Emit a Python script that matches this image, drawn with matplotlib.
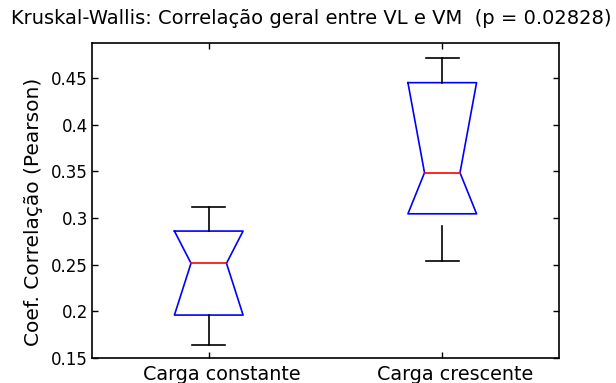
import matplotlib
matplotlib.use("Agg")
import matplotlib.pyplot as plt
import matplotlib.transforms as mtransforms
import numpy as np

plt.rcParams['font.family'] = ['DejaVu Sans']

# box statistics
groups = ["Carga constante", "Carga crescente"]
positions = [1, 2]
whisker_low = [0.164, 0.254]
whisker_low_top = [0.196, 0.291]   # where the lower whisker line starts
q1 = [0.196, 0.3045]
median = [0.2515, 0.3485]
q3 = [0.286, 0.445]
whisker_high = [0.312, 0.4715]

box_half = 0.147
notch_half = 0.076
cap_half = 0.071

fig = plt.figure(figsize=(6.16, 3.83), dpi=100)
ax = fig.add_axes([92 / 616, 1 - 358 / 383, (559 - 92) / 616, (358 - 43) / 383])

for i, x in enumerate(positions):
    # notched box outline
    xs = [x - box_half, x + box_half, x + notch_half, x + box_half,
          x - box_half, x - notch_half, x - box_half]
    ys = [q3[i], q3[i], median[i], q1[i], q1[i], median[i], q3[i]]
    ax.plot(xs, ys, color='#0000ff', lw=1.2)
    ax.plot([x - notch_half, x + notch_half], [median[i], median[i]],
            color='#ff0000', lw=1.2)
    # whiskers
    ax.plot([x, x], [q3[i], whisker_high[i]], color='black', lw=1.2)
    ax.plot([x, x], [whisker_low_top[i], whisker_low[i]], color='black', lw=1.2)
    ax.plot([x - cap_half, x + cap_half], [whisker_high[i], whisker_high[i]],
            color='black', lw=1.2)
    ax.plot([x - cap_half, x + cap_half], [whisker_low[i], whisker_low[i]],
            color='black', lw=1.2)

ax.set_xlim(0.5, 2.5)
ax.set_ylim(0.15, 0.4875)
ax.set_xticks(positions)
ax.set_xticklabels([])
# group names sit a bit right of their ticks in the original
shift = mtransforms.ScaledTranslation(13 / 100, -7 / 100, fig.dpi_scale_trans)
for x, name in zip(positions, groups):
    ax.text(x, 0, name, transform=ax.get_xaxis_transform() + shift,
            ha='center', va='top', fontsize=13.8)
ax.set_yticks([0.15, 0.2, 0.25, 0.3, 0.35, 0.4, 0.45])
ax.set_yticklabels(['0.15', '0.2', '0.25', '0.3', '0.35', '0.4', '0.45'], fontsize=12)
ax.tick_params(direction='in', length=4, top=True, right=True, width=1, pad=3)
for s in ax.spines.values():
    s.set_linewidth(1.2)
ax.set_ylabel("Coef. Correlação (Pearson)", fontsize=14.5)
ax.yaxis.label.set_va('center')
ax.yaxis.set_label_coords((34 - 92) / 467, (358 - 212) / 315)

fig.text(311 / 616, 1 - 19 / 383, "Kruskal-Wallis: Correlação geral entre VL e VM  (p = 0.02828)",
         ha='center', va='center', fontsize=14)

fig.savefig("out.png", dpi=100)
